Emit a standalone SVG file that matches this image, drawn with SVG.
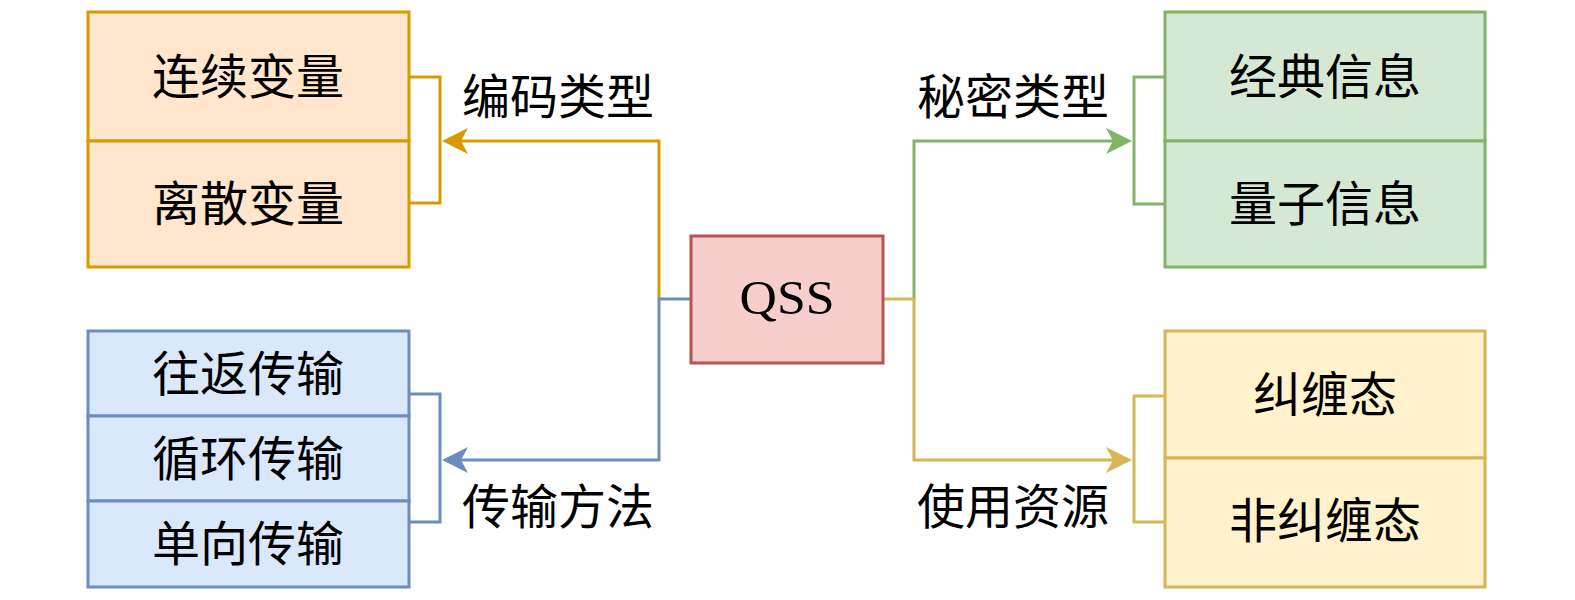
<svg xmlns="http://www.w3.org/2000/svg" width="1575" height="600" viewBox="0 0 1575 600">
<style>
  .t { font-family: "Noto Sans CJK SC", "Noto Sans", sans-serif; font-size: 48px; fill: #000; text-anchor: middle; }
  .q { font-family: "Liberation Serif", "DejaVu Serif", serif; font-size: 48px; fill: #000; text-anchor: middle; }
  .c { fill: none; stroke-width: 3; }
  .or { fill: #ffe6cc; stroke: #d79b00; stroke-width: 3; }
  .bl { fill: #dae8fc; stroke: #6c8ebf; stroke-width: 3; }
  .gr { fill: #d5e8d4; stroke: #82b366; stroke-width: 3; }
  .go { fill: #fff2cc; stroke: #d6b656; stroke-width: 3; }
  .rd { fill: #f8cecc; stroke: #b85450; stroke-width: 3; }
</style>
<defs>
  <marker id="aO" markerUnits="userSpaceOnUse" viewBox="0 0 26 26" refX="20" refY="13" markerWidth="26" markerHeight="26" orient="auto"><path d="M0,0 L26,13 L0,26 L7,13 Z" fill="#d79b00"/></marker>
  <marker id="aB" markerUnits="userSpaceOnUse" viewBox="0 0 26 26" refX="20" refY="13" markerWidth="26" markerHeight="26" orient="auto"><path d="M0,0 L26,13 L0,26 L7,13 Z" fill="#6c8ebf"/></marker>
  <marker id="aG" markerUnits="userSpaceOnUse" viewBox="0 0 26 26" refX="20" refY="13" markerWidth="26" markerHeight="26" orient="auto"><path d="M0,0 L26,13 L0,26 L7,13 Z" fill="#82b366"/></marker>
  <marker id="aY" markerUnits="userSpaceOnUse" viewBox="0 0 26 26" refX="20" refY="13" markerWidth="26" markerHeight="26" orient="auto"><path d="M0,0 L26,13 L0,26 L7,13 Z" fill="#d6b656"/></marker>
</defs>

<g id="connectors">
  <path class="c" stroke="#d79b00" d="M409,77 H440 V203 H409"/>
  <path class="c" stroke="#6c8ebf" d="M409,394 H440 V522 H409"/>
  <path class="c" stroke="#82b366" d="M1165,77 H1134 V204 H1165"/>
  <path class="c" stroke="#d6b656" d="M1165,396 H1134 V522 H1165"/>
  <path class="c" stroke="#d79b00" d="M659,299 V141 H448" marker-end="url(#aO)"/>
  <path class="c" stroke="#6c8ebf" d="M691,299 H659 V460 H448" marker-end="url(#aB)"/>
  <path class="c" stroke="#82b366" d="M914,299 V141 H1126" marker-end="url(#aG)"/>
  <path class="c" stroke="#d6b656" d="M883,299 H914 V460 H1126" marker-end="url(#aY)"/>
  <text class="t" x="558" y="114">编码类型</text>
  <text class="t" x="558" y="524">传输方法</text>
  <text class="t" x="1013" y="114">秘密类型</text>
  <text class="t" x="1013" y="524">使用资源</text>
</g>

<g id="qss">
  <rect class="rd" x="691" y="236" width="192" height="127"/>
  <text class="q" x="787" y="314" textLength="95" lengthAdjust="spacingAndGlyphs">QSS</text>
</g>

<g id="encoding">
  <rect class="or" x="88" y="12" width="321" height="129"/>
  <text class="t" x="248" y="94">连续变量</text>
  <rect class="or" x="88" y="141" width="321" height="126"/>
  <text class="t" x="248" y="221">离散变量</text>
</g>

<g id="transmission">
  <rect class="bl" x="88" y="331" width="321" height="85"/>
  <text class="t" x="248" y="391">往返传输</text>
  <rect class="bl" x="88" y="416" width="321" height="85"/>
  <text class="t" x="248" y="476">循环传输</text>
  <rect class="bl" x="88" y="501" width="321" height="86"/>
  <text class="t" x="248" y="561">单向传输</text>
</g>

<g id="secret">
  <rect class="gr" x="1165" y="12" width="320" height="129"/>
  <text class="t" x="1325" y="94">经典信息</text>
  <rect class="gr" x="1165" y="141" width="320" height="126"/>
  <text class="t" x="1325" y="221">量子信息</text>
</g>

<g id="resource">
  <rect class="go" x="1165" y="331" width="320" height="127"/>
  <text class="t" x="1325" y="412">纠缠态</text>
  <rect class="go" x="1165" y="458" width="320" height="129"/>
  <text class="t" x="1325" y="538">非纠缠态</text>
</g>
</svg>
